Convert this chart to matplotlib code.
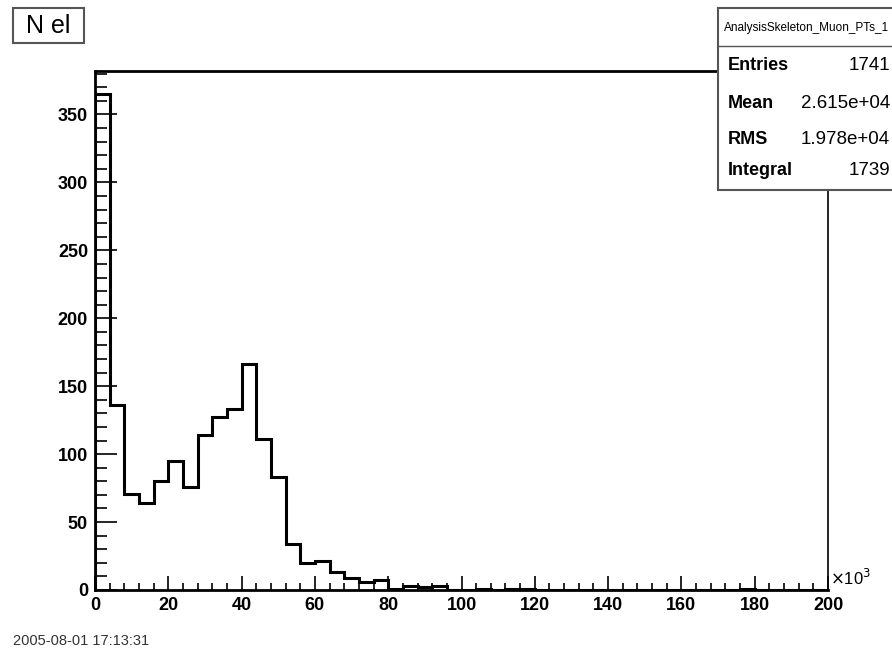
import numpy as np
import matplotlib.pyplot as plt
from matplotlib.ticker import MultipleLocator

# histogram contents, 50 bins of width 4 (x10^3) from 0 to 200
bin_edges = np.arange(0, 204, 4)
counts = [365, 136, 71, 64, 80, 95, 76, 114, 127, 133,
          166, 111, 83, 34, 20, 21, 13, 9, 6, 7,
          1, 3, 2, 3, 0, 0, 1, 0, 1, 1,
          0, 0, 0, 0, 0, 0, 0, 0, 0, 0,
          0, 0, 0, 0, 1, 0, 0, 0, 0, 0]

stat_names = ['Entries', 'Mean', 'RMS', 'Integral']
stat_values = ['1741', '2.615e+04', '1.978e+04', '1739']
hist_name = 'AnalysisSkeleton_Muon_PTs_1'
title = 'N el'
timestamp = '2005-08-01 17:13:31'

plt.rcParams['font.family'] = ['Liberation Sans', 'DejaVu Sans']

fig = plt.figure(figsize=(8.92, 6.52), dpi=100)
ax = fig.add_axes([95 / 892, 62 / 652, 733 / 892, 519 / 652])

ax.stairs(counts, bin_edges, color='black', linewidth=2.2)
ax.set_xlim(0, 200)
ax.set_ylim(0, 382)

for s in ['left', 'bottom', 'top']:
    ax.spines[s].set_linewidth(2)
ax.spines['right'].set_linewidth(1.2)

ax.xaxis.set_major_locator(MultipleLocator(20))
ax.xaxis.set_minor_locator(MultipleLocator(4))
ax.yaxis.set_major_locator(MultipleLocator(50))
ax.yaxis.set_minor_locator(MultipleLocator(10))
ax.tick_params(which='both', direction='in', top=False, right=False,
               width=1.2, labelsize=13)
ax.tick_params(axis='x', which='major', length=10, pad=5)
ax.tick_params(axis='x', which='minor', length=5)
ax.tick_params(axis='y', which='major', length=16, pad=5)
ax.tick_params(axis='y', which='minor', length=8.5)
for lab in ax.get_xticklabels() + ax.get_yticklabels():
    lab.set_fontweight('bold')

fig.text(830 / 892, 1 - 578 / 652, r'$\times$10$^3$', fontsize=12,
         ha='left', va='center')

# title box
fig.add_artist(plt.Rectangle((13 / 892, 1 - 43 / 652), 71 / 892, 35 / 652,
                             transform=fig.transFigure, fc='white',
                             ec='#555555', lw=1.5))
fig.text(48 / 892, 1 - 26 / 652, title, fontsize=18, ha='center',
         va='center')

# stats box
bx0, by0, bx1, by1 = 718 / 892, 1 - 190 / 652, 1.02, 1 - 8 / 652
box = plt.Rectangle((bx0, by0), bx1 - bx0, by1 - by0, transform=fig.transFigure,
                    fc='white', ec='#555555', lw=1.5, zorder=5)
fig.add_artist(box)
fig.add_artist(plt.Line2D([bx0, bx1], [1 - 46 / 652, 1 - 46 / 652],
                          transform=fig.transFigure, color='#555555',
                          lw=1, zorder=6))
fig.text(724 / 892, 1 - 28 / 652, hist_name, fontsize=8.5, ha='left',
         va='center', zorder=7)
row_y = [66, 104, 140, 170]
for name, val, y in zip(stat_names, stat_values, row_y):
    fig.text(728 / 892, 1 - y / 652, name, fontsize=13, fontweight='bold',
             ha='left', va='center', zorder=7)
    fig.text(890 / 892, 1 - y / 652, val, fontsize=13.5, ha='right',
             va='center', zorder=7)

fig.text(13 / 892, 1 - 641 / 652, timestamp, fontsize=10.5, ha='left',
         va='center', color='#333333')

fig.savefig('out.png', dpi=100)
